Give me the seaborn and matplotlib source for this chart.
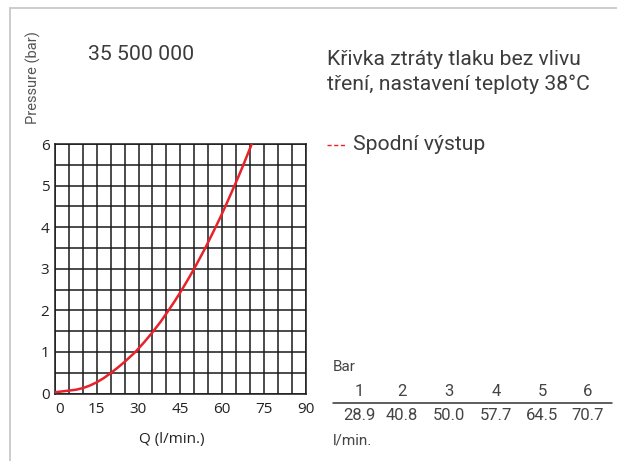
import numpy as np
import pandas as pd
import matplotlib
matplotlib.use("Agg")
import matplotlib.pyplot as plt
from matplotlib.lines import Line2D
import seaborn as sns

# Pressure-loss curve, bottom outlet, thermostat set to 38 °C
flow_lpm = [0, 2.5, 5, 7.5, 10, 12.5, 15, 17.5, 20, 22.5, 25, 28.9, 32, 35, 38,
            40.8, 43, 45, 47.5, 50.0, 52, 54, 56, 57.7, 59.5, 61, 63, 64.5, 66, 67.5, 69, 70.7]
pressure_bar = [0.03, 0.05, 0.07, 0.09, 0.13, 0.19, 0.27, 0.37, 0.49, 0.62, 0.76, 1.0, 1.23, 1.47, 1.73,
                2.0, 2.22, 2.43, 2.71, 3.0, 3.25, 3.5, 3.77, 4.0, 4.25, 4.47, 4.77, 5.0, 5.23, 5.47, 5.72, 6.0]

# Lookup table printed beside the chart
table_bar = ["1", "2", "3", "4", "5", "6"]
table_flow = ["28.9", "40.8", "50.0", "57.7", "64.5", "70.7"]

x_ticks = [0, 15, 30, 45, 60, 75, 90]
y_ticks = [0, 1, 2, 3, 4, 5, 6]

title_code = "35 500 000"
caption = "Křivka ztráty tlaku bez vlivu\ntření, nastavení teploty 38°C"
legend_label = "Spodní výstup"

sns.set_theme(style="white")
plt.rcParams["font.family"] = ["Roboto", "DejaVu Sans"]

W, H = 617, 461
fig = plt.figure(figsize=(W / 100, H / 100), dpi=100)
fig.patch.set_facecolor("white")

def fx(px):
    return px / W

def fy(py):
    return 1 - py / H

ax = fig.add_axes([fx(55), fy(393.5), fx(305.5) - fx(55), fy(144) - fy(393.5)])

df = pd.DataFrame({"Q": flow_lpm, "P": pressure_bar})
sns.lineplot(data=df, x="Q", y="P", ax=ax, color="#e8222b", linewidth=1.8,
             sort=True, zorder=5)

ax.set_xlim(0, 90)
ax.set_ylim(0, 6)
ax.set_xticks(x_ticks)
ax.set_xticks(np.arange(0, 91, 5), minor=True)
ax.set_yticks(y_ticks)
ax.set_yticks(np.arange(0, 6.01, 0.5), minor=True)
ax.grid(True, which="both", color="#1a1a1a", linewidth=1.1)
ax.set_axisbelow(True)
for s in ax.spines.values():
    s.set_color("#1a1a1a")
    s.set_linewidth(1.1)

tick_font = ["Open Sans", "DejaVu Sans"]
ax.tick_params(axis="both", which="both", length=0, colors="#222222")
ax.tick_params(axis="x", pad=6)
ax.tick_params(axis="y", pad=4)
ax.set_xticklabels([str(v) for v in x_ticks], fontsize=11, family=tick_font)
ax.set_yticklabels([str(v) for v in y_ticks], fontsize=11, family=tick_font)
ax.get_xticklabels()[0].set_horizontalalignment("left")
ax.set_xlabel("")
ax.set_ylabel("")

txt = "#3c3c3c"
fig.text(fx(172), fy(439), "Q (l/min.)", fontsize=11, family=tick_font,
         color="#222222", ha="center", va="center")
fig.text(fx(33), fy(78), "Pressure (bar)", fontsize=10.5, rotation=90,
         color="#555555", ha="center", va="center")

fig.text(fx(88), fy(54), title_code, fontsize=15.3, color=txt,
         ha="left", va="center")
fig.text(fx(327), fy(72), caption, fontsize=15.2, color=txt,
         ha="left", va="center", linespacing=1.35)

# legend entry: dashed red marker + label
fig.add_artist(Line2D([fx(327), fx(346)], [fy(145.5), fy(145.5)], color="#e8222b",
                      linewidth=1.0, linestyle=(0, (3.0, 1.8))))
fig.text(fx(353), fy(144), legend_label, fontsize=15.2, color=txt,
         ha="left", va="center")

# flow table
tbl_x = [359, 402, 449, 496, 542, 588]
fig.text(fx(333), fy(367), "Bar", fontsize=11, color="#444444",
         ha="left", va="center")
for xp, b, q in zip(tbl_x, table_bar, table_flow):
    fig.text(fx(xp), fy(391), b, fontsize=12, color="#444444",
             ha="center", va="center")
    fig.text(fx(xp), fy(415), q, fontsize=12, color="#444444",
             ha="center", va="center")
fig.add_artist(Line2D([fx(333), fx(612)], [fy(402.5), fy(402.5)],
                      color="#333333", linewidth=1.1))
fig.text(fx(333), fy(440), "l/min.", fontsize=11, color="#444444",
         ha="left", va="center")

# page frame
fig.add_artist(Line2D([fx(10), fx(W)], [fy(8.5), fy(8.5)], color="#c8c8c8", linewidth=1.3))
fig.add_artist(Line2D([fx(10), fx(10)], [fy(8.5), fy(H)], color="#c8c8c8", linewidth=1.3))

fig.savefig("out.png", dpi=100, facecolor="white")
